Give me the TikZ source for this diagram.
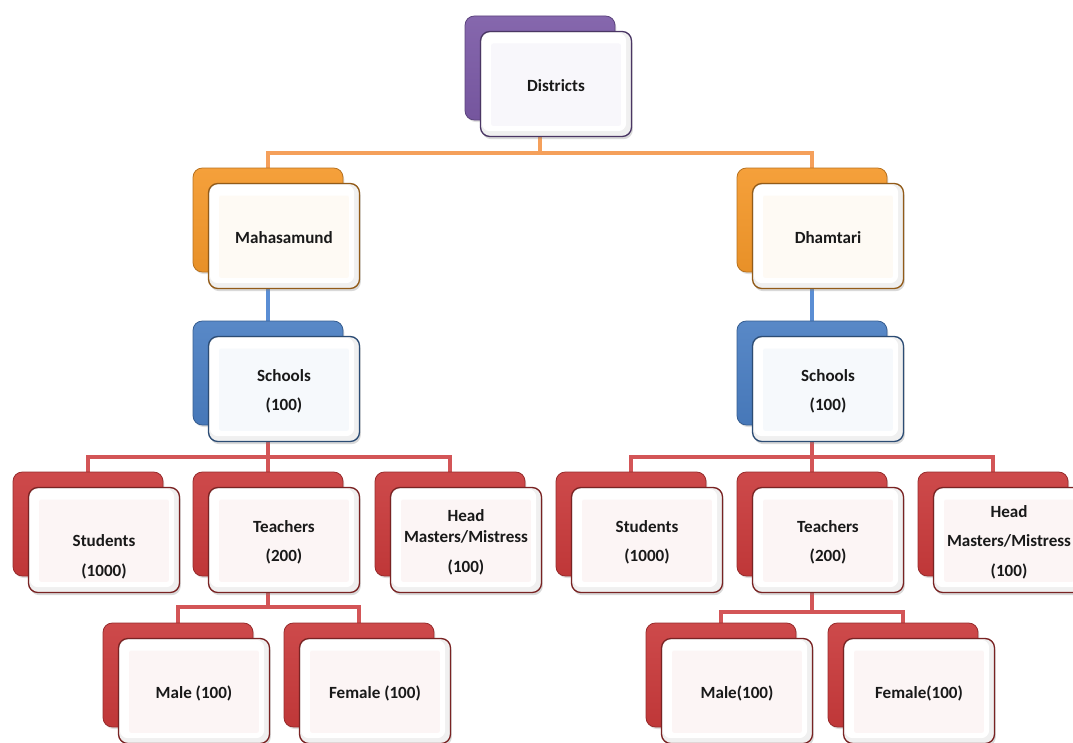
\documentclass[tikz,border=0pt]{standalone}
\usepackage{fontspec}
\setmainfont{Carlito}
\usetikzlibrary{calc}
\usetikzlibrary{shadows}
\usetikzlibrary{backgrounds}

\definecolor{purp}{HTML}{7B5AA6}
\definecolor{oran}{HTML}{F4982A}
\definecolor{blu}{HTML}{4A7EC2}
\definecolor{rd}{HTML}{C93A3B}
\definecolor{oranline}{HTML}{F5A05B}
\definecolor{bluline}{HTML}{5B8ED4}
\definecolor{rdline}{HTML}{D35557}

\tikzset{
 backbox/.style={rounded corners=7pt, minimum width=112.5pt, minimum height=78pt,
   top color=#1!92!white, bottom color=#1!95!black, draw=#1!75!black, line width=.6pt,
   drop shadow={opacity=.25, shadow xshift=1pt, shadow yshift=-1.5pt}},
 frontbox/.style={rounded corners=7pt, minimum width=113.25pt, minimum height=78.75pt,
   fill=white!94!black, draw=#1!60!black, line width=1pt,
   drop shadow={opacity=.3, shadow xshift=1pt, shadow yshift=-2pt},
   path picture={\fill[white, rounded corners=6pt]
     ([shift={(1pt,-1pt)}]path picture bounding box.north west) rectangle
     ([shift={(-4pt,4pt)}]path picture bounding box.south east);
     \fill[#1!5!white, rounded corners=1.5pt]
     ([shift={(8pt,-9pt)}]path picture bounding box.north west) rectangle
     ([shift={(-8pt,8pt)}]path picture bounding box.south east);}},
 txt/.style={align=center, inner sep=0pt, text=black!90,
   font=\bfseries\fontsize{12.8}{16}\selectfont},
 link/.style={line width=2.4pt, draw=#1}
}

\begin{document}
\begin{tikzpicture}[x=0.75pt,y=-0.75pt]
\path[use as bounding box] (0,0) rectangle (1073,742);
\clip (0,0) rectangle (1073,742);

\foreach \n/\x/\y/\c/\t/\dy in {
 dst/540/68/purp/Districts/-1.5pt,
 mah/268/220/oran/Mahasamund/-1.5pt,
 dha/812/220/oran/Dhamtari/-1.5pt,
 schL/268/373/blu/{Schools\\[6pt](100)}/-1.5pt,
 schR/812/373/blu/{Schools\\[6pt](100)}/-1.5pt,
 stuL/88/524/rd/{Students\\[6pt](1000)}/-12.5pt,
 teaL/268/524/rd/{Teachers\\[6pt](200)}/-1.5pt,
 hmL/450/524/rd/{Head\\Masters/Mistress\\[6pt](100)}/-1.5pt,
 stuR/631/524/rd/{Students\\[6pt](1000)}/-1.5pt,
 teaR/812/524/rd/{Teachers\\[6pt](200)}/-1.5pt,
 hmR/993/524/rd/{Head\\[6pt]Masters/Mistress\\[6pt](100)}/-1.5pt,
 maleL/178/675/rd/{Male (100)}/-1.5pt,
 femL/359/675/rd/{Female (100)}/-1.5pt,
 maleR/721/675/rd/{Male(100)}/-1.5pt,
 femR/903/675/rd/{Female(100)}/-1.5pt}
{
 \node[backbox=\c] (\n) at (\x,\y) {};
 \node[frontbox=\c] (\n-f) at (\x+16,\y+16) {};
 \node[txt] (\n-t) at ([yshift=\dy]\n-f.center) {\t};
}

% bus lines
\coordinate (b0) at (0,153);
\coordinate (b1) at (0,457);
\coordinate (b2) at (0,607);
\coordinate (b3) at (0,612);

\begin{scope}[on background layer]
\draw[link=oranline] (dst.center) |- (mah.center |- b0) -- (mah.center);
\draw[link=oranline] (dst.center) |- (dha.center |- b0) -- (dha.center);
\draw[link=bluline] (mah.center) -- (schL.center);
\draw[link=bluline] (dha.center) -- (schR.center);
\foreach \k in {stuL,teaL,hmL}
 \draw[link=rdline] (schL.center) |- (\k.center |- b1) -- (\k.center);
\foreach \k in {stuR,teaR,hmR}
 \draw[link=rdline] (schR.center) |- (\k.center |- b1) -- (\k.center);
\foreach \k in {maleL,femL}
 \draw[link=rdline] (teaL.center) |- (\k.center |- b2) -- (\k.center);
\foreach \k in {maleR,femR}
 \draw[link=rdline] (teaR.center) |- (\k.center |- b3) -- (\k.center);
\end{scope}
\end{tikzpicture}
\end{document}
